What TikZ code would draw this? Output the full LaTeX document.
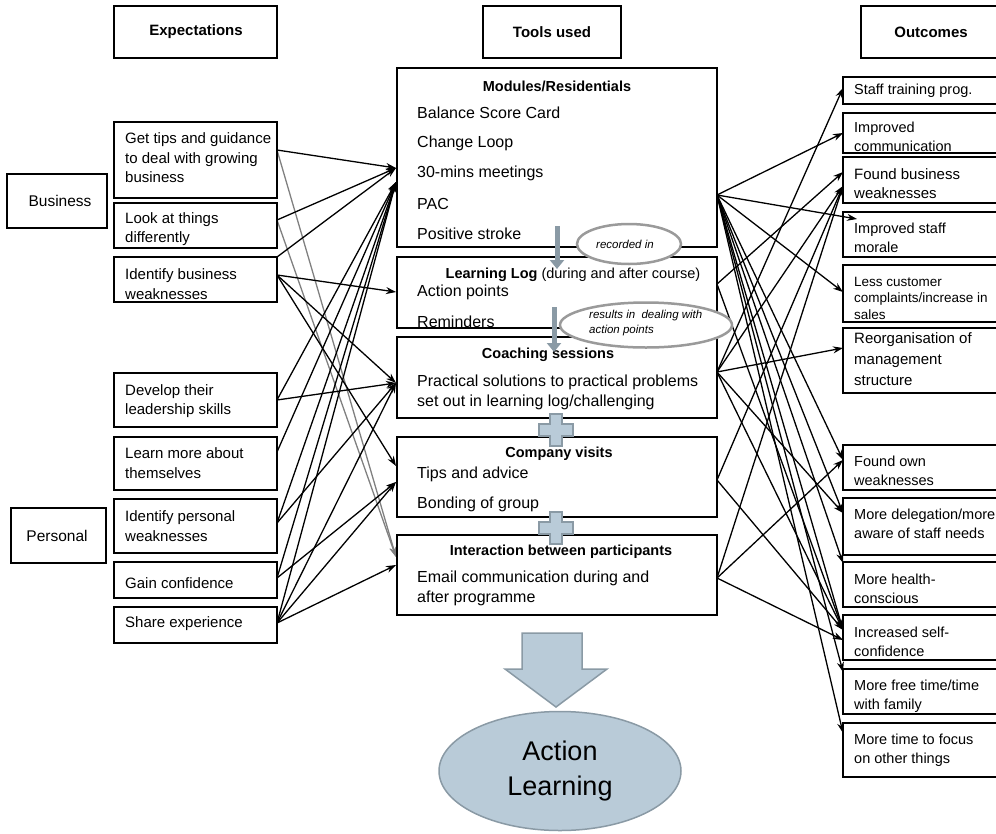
\documentclass[tikz,border=0pt]{standalone}
\usepackage{fontspec}
\setmainfont{Liberation Sans}
\usetikzlibrary{arrows.meta,shapes.geometric}
\definecolor{bluefill}{HTML}{B9CBD8}
\definecolor{blueedge}{HTML}{8A9AA5}
\definecolor{ellgray}{HTML}{9A9A9A}
\begin{document}
\begin{tikzpicture}[x=1pt,y=-1pt,
 box/.style={draw, line width=1.5pt, inner sep=0pt, outer sep=0pt, anchor=north west},
 ltxt/.style={anchor=west, align=left, font=\fontsize{15}{19.5}\selectfont, inner sep=0pt},
 mtxt/.style={anchor=west, align=left, font=\fontsize{16}{20}\selectfont, inner sep=0pt},
 rtxt/.style={anchor=west, align=left, font=\fontsize{14.5}{18.5}\selectfont, inner sep=0pt},
 ttl/.style={anchor=center, font=\bfseries\fontsize{14.5}{18}\selectfont, inner sep=0pt},
 hdr/.style={anchor=center, font=\bfseries\fontsize{15}{18}\selectfont, inner sep=0pt},
 arr/.style={-{Stealth[length=10pt,width=7pt]}, line width=1.3pt},
 garr/.style={arr, draw=gray, -{Stealth[length=10pt,width=7pt,fill=gray]}},
 lbl/.style={ellipse, draw=ellgray, line width=2.5pt, fill=white, inner sep=0pt},
 bigshape/.style={fill=bluefill, draw=blueedge, line width=1.5pt},
 flow/.style={draw=blueedge, line width=5pt, -{Triangle[length=9pt,width=14pt]}},
]
\useasboundingbox (0,0) rectangle (996,833);
\begin{scope}
\clip (0,0) rectangle (996,833);

% ---------- named connector end points ----------
\coordinate (sL1) at (277,150);
\coordinate (sL2) at (277,220);
\coordinate (sL3a) at (277,257);
\coordinate (sL3) at (277,275);
\coordinate (sL4) at (277,400);
\coordinate (sL5) at (277,452);
\coordinate (sL6) at (277,523);
\coordinate (sL7) at (277,578);
\coordinate (sL8) at (277,623);
\coordinate (tM1) at (396,168);
\coordinate (tM1b) at (396,182);
\coordinate (tM2) at (396,292);
\coordinate (tM3) at (396,383);
\coordinate (tM4a) at (396,466);
\coordinate (tM4b) at (396,482);
\coordinate (tM5a) at (396,557);
\coordinate (tM5b) at (396,565);
\coordinate (sM1) at (717,195);
\coordinate (sM2) at (717,284);
\coordinate (sM3) at (717,372);
\coordinate (sM4) at (717,480);
\coordinate (sM5) at (717,578);
\coordinate (tR1) at (843,88);
\coordinate (tR2) at (843,133);
\coordinate (tR3) at (843,172);
\coordinate (tR3b) at (843,186);
\coordinate (tR4) at (857,219);
\coordinate (tR5) at (843,292);
\coordinate (tR6) at (843,348);
\coordinate (tR7) at (843,460);
\coordinate (tR8) at (843,513);
\coordinate (tR9) at (843,563);
\coordinate (tR10) at (843,630);
\coordinate (tR10b) at (843,640);
\coordinate (tR11) at (843,672);
\coordinate (tR12) at (843,733);

% ---------- connectors: expectations -> tools ----------
\draw[garr] (sL1) -- (tM5a);
\draw[garr] (sL2) -- (tM5a);
\draw[arr] (sL1) -- (tM1);
\draw[arr] (sL2) -- (tM1);
\draw[arr] (sL3a) -- (tM1);
\draw[arr] (sL3) -- (tM2);
\draw[arr] (sL3) -- (tM3);
\draw[arr] (sL3) -- (tM4a);
\draw[arr] (sL4) -- (tM1b);
\draw[arr] (sL4) -- (tM3);
\draw[arr] (sL5) -- (tM1b);
\draw[arr] (sL6) -- (tM1b);
\draw[arr] (sL6) -- (tM3);
\draw[arr] (sL7) -- (tM1b);
\draw[arr] (sL7) -- (tM4b);
\draw[arr] (sL8) -- (tM1b);
\draw[arr] (sL8) -- (tM3);
\draw[arr] (sL8) -- (tM4b);
\draw[arr] (sL8) -- (tM5b);

% ---------- connectors: tools -> outcomes ----------
\draw[arr] (sM1) -- (tR2);
\draw[arr] (sM1) -- (tR4);
\draw[arr] (sM1) -- (tR5);
\draw[arr] (sM1) -- (tR7);
\draw[arr] (sM1) -- (tR8);
\draw[arr] (sM1) -- (tR9);
\draw[arr] (sM1) -- (tR10);
\draw[arr] (sM1) -- (tR11);
\draw[arr] (sM1) -- (tR12);
\draw[arr] (sM2) -- (tR3);
\draw[arr] (sM2) -- (tR10);
\draw[arr] (sM3) -- (tR1);
\draw[arr] (sM3) -- (tR3b);
\draw[arr] (sM3) -- (tR6);
\draw[arr] (sM3) -- (tR8);
\draw[arr] (sM3) -- (tR10);
\draw[arr] (sM4) -- (tR3b);
\draw[arr] (sM4) -- (tR10);
\draw[arr] (sM5) -- (tR3b);
\draw[arr] (sM5) -- (tR7);
\draw[arr] (sM5) -- (tR10b);

% ---------- headers ----------
\node[box, minimum width=163pt, minimum height=52pt] (hE) at (114,6) {};
\node[hdr] (hEt) at (196,32) {Expectations};
\node[box, minimum width=138pt, minimum height=52pt] (hT) at (483,6) {};
\node[hdr] (hTt) at (552,32) {Tools used};
\node[box, minimum width=140pt, minimum height=52pt] (hO) at (861,6) {};
\node[hdr] (hOt) at (931,32) {Outcomes};

% ---------- left column ----------
\node[box, minimum width=100pt, minimum height=54pt] (B) at (7,174) {};
\node[anchor=center, inner sep=0pt, font=\fontsize{15.5}{19}\selectfont] (Bt) at (60,201) {Business};
\node[box, minimum width=95pt, minimum height=55pt] (P) at (11,508) {};
\node[anchor=center, inner sep=0pt, font=\fontsize{15.5}{19}\selectfont] (Pt) at (57,536) {Personal};

\node[box, minimum width=163pt, minimum height=76pt] (L1) at (114,122) {};
\node[ltxt] (L1t) at (125,158) {Get tips and guidance\\to deal with growing\\business};
\node[box, minimum width=163pt, minimum height=45pt] (L2) at (114,203) {};
\node[ltxt] (L2t) at (125,229) {Look at things\\differently};
\node[box, minimum width=163pt, minimum height=45pt] (L3) at (114,257) {};
\node[ltxt] (L3t) at (125,284) {Identify business\\weaknesses};
\node[box, minimum width=163pt, minimum height=54pt] (L4) at (114,373) {};
\node[ltxt] (L4t) at (125,401) {Develop their\\leadership skills};
\node[box, minimum width=163pt, minimum height=53pt] (L5) at (114,437) {};
\node[ltxt] (L5t) at (125,463) {Learn more about\\themselves};
\node[box, minimum width=163pt, minimum height=54pt] (L6) at (114,499) {};
\node[ltxt] (L6t) at (125,526) {Identify personal\\weaknesses};
\node[box, minimum width=163pt, minimum height=36pt] (L7) at (114,562) {};
\node[ltxt] (L7t) at (125,583) {Gain confidence};
\node[box, minimum width=163pt, minimum height=36pt] (L8) at (114,607) {};
\node[ltxt] (L8t) at (125,624) {Share experience};

% ---------- middle column ----------
\node[box, minimum width=320pt, minimum height=179pt] (M1) at (397,68) {};
\node[ttl] (M1h) at (557,86) {Modules/Residentials};
\node[mtxt] (M1a) at (417,113) {Balance Score Card};
\node[mtxt] (M1b) at (417,143) {Change Loop};
\node[mtxt] (M1c) at (417,173) {30-mins meetings};
\node[mtxt] (M1d) at (417,204) {PAC};
\node[mtxt] (M1e) at (417,234) {Positive stroke};

\node[box, minimum width=320pt, minimum height=71pt] (M2) at (397,257) {};
\node[anchor=center, inner sep=0pt, font=\fontsize{14.5}{18}\selectfont] (M2h) at (573,275) {\textbf{Learning Log} (during and after course)};
\node[mtxt] (M2a) at (417,292) {Action points};
\node[mtxt] (M2b) at (417,322) {Reminders};

\node[box, minimum width=320pt, minimum height=81pt] (M3) at (397,337) {};
\node[ttl] (M3h) at (548,355) {Coaching sessions};
\node[mtxt] (M3a) at (417,392) {Practical solutions to practical problems\\set out in learning log/challenging};

\node[box, minimum width=320pt, minimum height=80pt] (M4) at (397,437) {};
\node[ttl] (M4h) at (559,454) {Company visits};
\node[mtxt] (M4a) at (417,474) {Tips and advice};
\node[mtxt] (M4b) at (417,504) {Bonding of group};

\node[box, minimum width=320pt, minimum height=80pt] (M5) at (397,535) {};
\node[ttl] (M5h) at (561,552) {Interaction between participants};
\node[mtxt] (M5a) at (417,588) {Email communication during and\\after programme};

% ---------- flow marks between tool boxes ----------
\coordinate (fa1) at (557,226);
\coordinate (fa2) at (557,269);
\coordinate (fb1) at (554,307);
\coordinate (fb2) at (554,352);
\draw[flow] (fa1) -- (fa2);
\draw[flow] (fb1) -- (fb2);

\node[lbl, minimum width=104pt, minimum height=40pt] (E1) at (629,244) {};
\node[inner sep=0pt, font=\itshape\fontsize{11.5}{13}\selectfont] (E1t) at (625,244) {recorded in};
\node[lbl, minimum width=172pt, minimum height=45pt] (E2) at (646,325) {};
\node[inner sep=0pt, anchor=west, align=left, font=\itshape\fontsize{11.5}{15}\selectfont] (E2t) at (589,323) {results in\ \ dealing with\\action points};

\foreach \cy/\nm in {430/plusA, 528/plusB} {
  \path[bigshape] (550,\cy-16) -- (562,\cy-16) -- (562,\cy-6) -- (573,\cy-6) -- (573,\cy+6)
     -- (562,\cy+6) -- (562,\cy+16) -- (550,\cy+16) -- (550,\cy+6) -- (539,\cy+6)
     -- (539,\cy-6) -- (550,\cy-6) -- cycle;
  \coordinate (\nm) at (556,\cy);
}

% ---------- right column ----------
\node[box, minimum width=160pt, minimum height=27pt] (R1) at (843,77) {};
\node[rtxt] (R1t) at (854,91) {Staff training prog.};
\node[box, minimum width=160pt, minimum height=40pt] (R2) at (843,113) {};
\node[rtxt] (R2t) at (854,137) {Improved\\communication};
\node[box, minimum width=160pt, minimum height=46pt] (R3) at (843,157) {};
\node[rtxt, font=\fontsize{15}{19}\selectfont] (R3t) at (854,184) {Found business\\weaknesses};
\node[box, minimum width=160pt, minimum height=45pt] (R4) at (843,212) {};
\node[rtxt] (R4t) at (854,238) {Improved staff\\morale};
\node[box, minimum width=160pt, minimum height=57pt] (R5) at (843,265) {};
\node[rtxt, font=\fontsize{13.5}{16.5}\selectfont] (R5t) at (854,298) {Less customer\\complaints/increase in\\sales};
\node[box, minimum width=160pt, minimum height=65pt] (R6) at (843,328) {};
\node[rtxt, font=\fontsize{15}{21}\selectfont] (R6t) at (854,359) {Reorganisation of\\management\\structure};
\node[box, minimum width=160pt, minimum height=45pt] (R7) at (843,445) {};
\node[rtxt] (R7t) at (854,471) {Found own\\weaknesses};
\node[box, minimum width=160pt, minimum height=57pt] (R8) at (843,498) {};
\node[rtxt] (R8t) at (854,524) {More delegation/more\\aware of staff needs};
\node[box, minimum width=160pt, minimum height=45pt] (R9) at (843,562) {};
\node[rtxt] (R9t) at (854,589) {More health-\\conscious};
\node[box, minimum width=160pt, minimum height=45pt] (R10) at (843,615) {};
\node[rtxt] (R10t) at (854,642) {Increased self-\\confidence};
\node[box, minimum width=160pt, minimum height=45pt] (R11) at (843,669) {};
\node[rtxt] (R11t) at (854,696) {More free time/time\\with family};
\node[box, minimum width=160pt, minimum height=54pt] (R12) at (843,723) {};
\node[rtxt] (R12t) at (854,750) {More time to focus\\on other things};

% ---------- action learning ----------
\path[bigshape] (522,633) -- (582,633) -- (582,669) -- (607,669) -- (556,707)
   -- (505,669) -- (522,669) -- cycle;
\coordinate (bigarrow) at (556,670);
\node[ellipse, bigshape, minimum width=242pt, minimum height=119pt, inner sep=0pt,
      align=center, font=\fontsize{27}{35}\selectfont] (AL) at (560,771) {Action\\Learning};
\end{scope}
\end{tikzpicture}
\end{document}
